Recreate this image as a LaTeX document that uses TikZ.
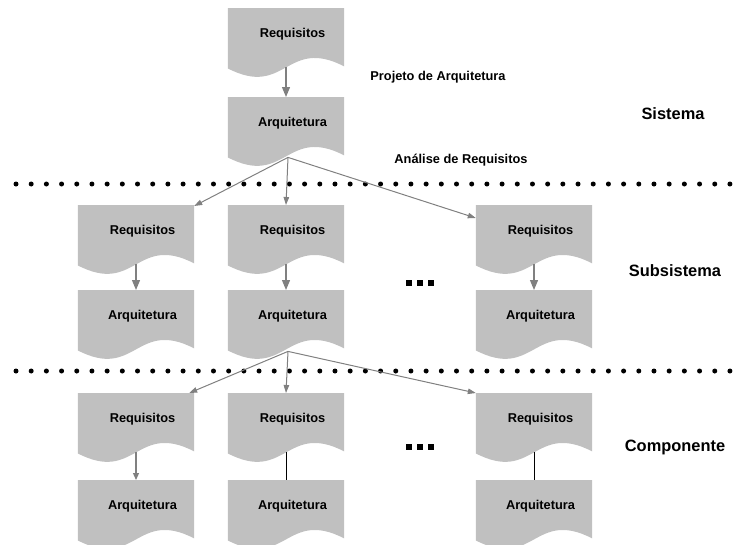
\documentclass[tikz,border=0pt]{standalone}
\usepackage{fontspec}
\setmainfont{Liberation Sans}
\usetikzlibrary{arrows.meta,backgrounds}
\definecolor{docgray}{HTML}{C0C0C0}
\definecolor{flowgray}{HTML}{808080}
\tikzset{
  doc/.style={minimum width=116pt, minimum height=60pt, inner sep=0pt, anchor=north,
    font=\bfseries\fontsize{12.8}{14}\selectfont, text height=9pt, text depth=10.4pt},
  flow/.style={draw=flowgray, line width=1.2pt, -{Triangle[length=10pt,width=8pt]}},
  branch/.style={draw=flowgray, line width=1pt, -{Triangle[length=8pt,width=5.5pt]}},
  flowsmall/.style={draw=flowgray, line width=1.2pt, -{Triangle[length=7pt,width=6pt]}},
  link/.style={draw=black, line width=0.9pt},
  lbl/.style={anchor=base, inner sep=0pt, font=\bfseries\fontsize{12.8}{14}\selectfont},
  lvl/.style={anchor=base, inner sep=0pt, font=\bfseries\fontsize{16.4}{18}\selectfont},
  dotrow/.style={line width=5pt, line cap=round, dash pattern=on 0pt off 15.19pt},
}
% document shape: flat top, straight sides, wavy bottom
\newcommand\docfill[1]{%
  \fill[docgray] (#1.north west) -- (#1.north east) -- ([yshift=2pt]#1.south east)
    .. controls +(-58,-30) and +(58,30) .. (#1.south west) -- cycle;}
\newcommand\docname[1]{\hspace*{13pt}#1}
\begin{document}
\begin{tikzpicture}[x=1pt,y=-1pt]
  \useasboundingbox (0,0) rectangle (741,544);

  % system level
  \node[doc] (r0) at (286,8)  {\docname{Requisitos}};
  \node[doc] (a0) at (286,97) {\docname{Arquitetura}};

  % subsystem level
  \node[doc] (r1a) at (136,205) {\docname{Requisitos}};
  \node[doc] (r1b) at (286,205) {\docname{Requisitos}};
  \node[doc] (r1c) at (534,205) {\docname{Requisitos}};
  \node[doc] (a1a) at (136,290) {\docname{Arquitetura}};
  \node[doc] (a1b) at (286,290) {\docname{Arquitetura}};
  \node[doc] (a1c) at (534,290) {\docname{Arquitetura}};

  % component level
  \node[doc] (r2a) at (136,393) {\docname{Requisitos}};
  \node[doc] (r2b) at (286,393) {\docname{Requisitos}};
  \node[doc] (r2c) at (534,393) {\docname{Requisitos}};
  \node[doc] (a2a) at (136,480) {\docname{Arquitetura}};
  \node[doc] (a2b) at (286,480) {\docname{Arquitetura}};
  \node[doc] (a2c) at (534,480) {\docname{Arquitetura}};

  \begin{scope}[on background layer]
    \foreach \n in {r0,a0,r1a,r1b,r1c,a1a,a1b,a1c,r2a,r2b,r2c,a2a,a2b,a2c}
      {\docfill{\n}}
  \end{scope}

  % level separators
  \draw[dotrow] (16,184) -- (731,184);
  \draw[dotrow] (16,371) -- (731,371);

  % labels
  \node[lbl] (proj) at (438,80.6)  {Projeto de Arquitetura};
  \node[lbl] (anal) at (461,163.6) {Análise de Requisitos};
  \node[lvl] (sis)  at (673,119.9) {Sistema};
  \node[lvl] (sub)  at (675,276.9) {Subsistema};
  \node[lvl] (comp) at (675,451.9) {Componente};

  % ellipses between columns
  \foreach \yy in {283,447}
    \foreach \xx in {409,420,431}
      \fill (\xx-2.6,\yy-2.6) rectangle (\xx+2.6,\yy+2.6);

  % system flow
  \draw[flow] ([yshift=1pt]r0.south) -- (a0.north);
  \draw[branch] ([xshift=2pt]a0.south) -- ([yshift=-1pt]r1a.north east);
  \draw[branch] ([xshift=2pt]a0.south) -- (r1b.north);
  \draw[branch] ([xshift=2pt]a0.south) -- ([yshift=-13pt]r1c.north west);

  % subsystem flow
  \draw[flow] ([yshift=1pt]r1a.south) -- (a1a.north);
  \draw[flow] ([yshift=1pt]r1b.south) -- (a1b.north);
  \draw[flow] ([yshift=1pt]r1c.south) -- (a1c.north);
  \draw[branch] ([xshift=2pt,yshift=-1pt]a1b.south) -- ([xshift=-5pt]r2a.north east);
  \draw[branch] ([xshift=2pt,yshift=-1pt]a1b.south) -- (r2b.north);
  \draw[branch] ([xshift=2pt,yshift=-1pt]a1b.south) -- (r2c.north west);

  % component flow
  \draw[flowsmall] ([yshift=1pt]r2a.south) -- (a2a.north);
  \draw[link] ([yshift=1pt]r2b.south) -- (a2b.north);
  \draw[link] ([yshift=1pt]r2c.south) -- (a2c.north);
\end{tikzpicture}
\end{document}
